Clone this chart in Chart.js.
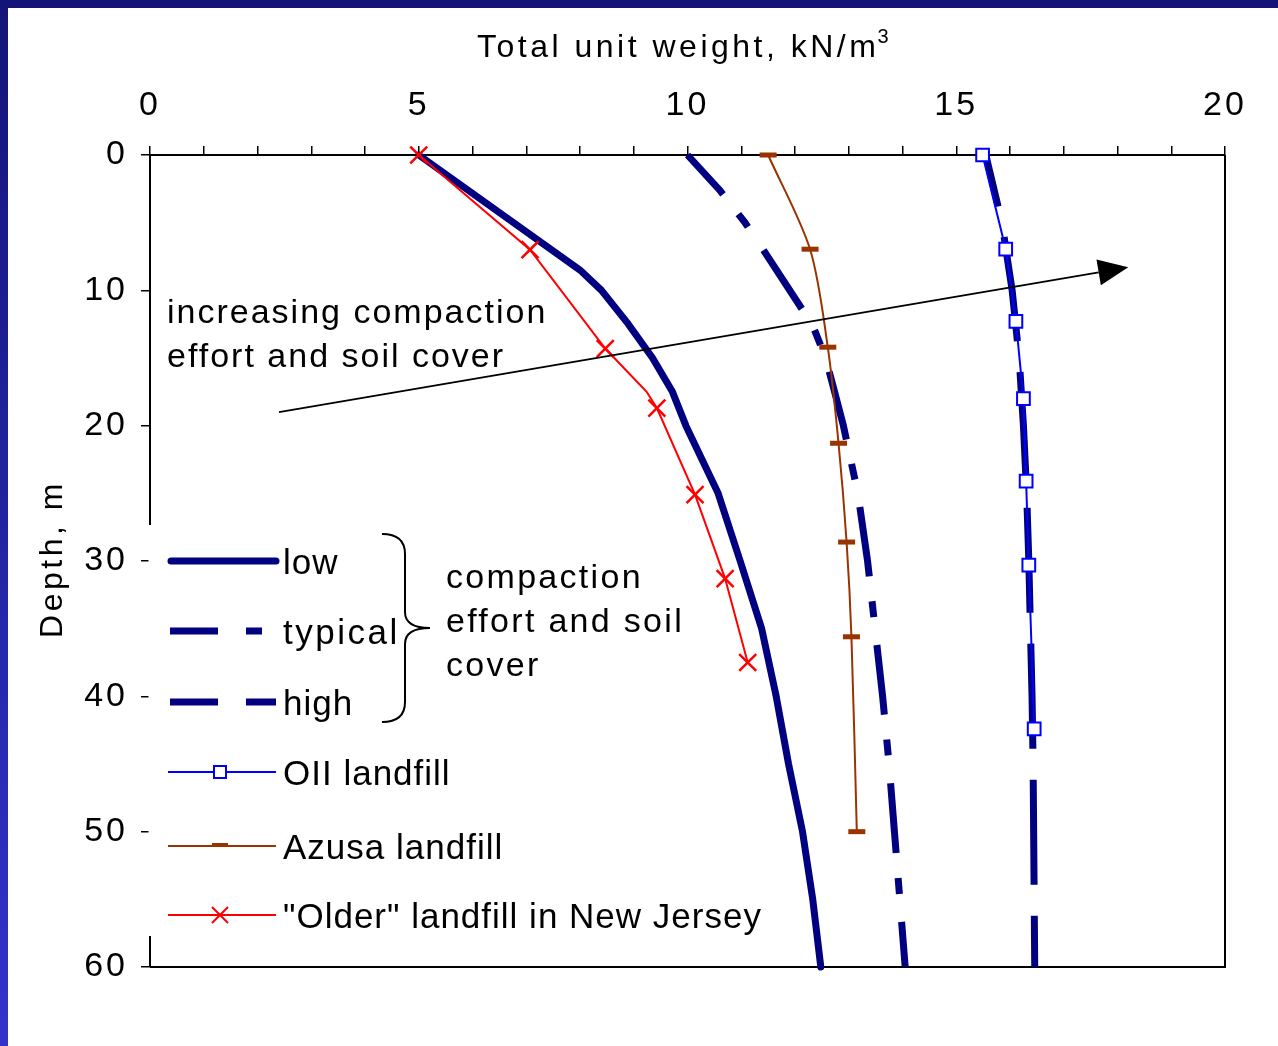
<!DOCTYPE html>
<html>
<head>
<meta charset="utf-8">
<title>Total unit weight vs depth</title>
<script src="https://cdn.jsdelivr.net/npm/chart.js@4.4.1/dist/chart.umd.min.js"></script>
<style>
  html, body { margin: 0; padding: 0; background: #fff; }
  canvas { display: block; }
</style>
</head>
<body>
<canvas id="weightChart" width="1278" height="1046"></canvas>
<script>
// Depth (m) on the y axis, total unit weight (kN/m3) on the x axis

// Compaction effort and soil cover curves
var lowDepth = [0, 8.5, 10, 12.5, 15, 17.5, 20, 25, 30, 35, 40, 45, 50, 55, 60];
var lowWeight = [5.0, 8.0, 8.4, 8.9, 9.35, 9.72, 9.97, 10.57, 10.98, 11.38, 11.65, 11.88, 12.14, 12.33, 12.48];

var typicalDepth = [0, 2.6, 5, 6.4, 12.6, 15, 17.1, 20, 25, 30, 35, 40, 45, 50, 55, 60];
var typicalWeight = [10.0, 10.6, 11.07, 11.31, 12.33, 12.57, 12.71, 12.9, 13.17, 13.35, 13.49, 13.63, 13.75, 13.85, 13.95, 14.05];

var highDepth = [0, 5, 10, 15, 20, 25, 30, 35, 40, 45, 50, 55, 60];
var highWeight = [15.55, 15.85, 16.04, 16.17, 16.25, 16.31, 16.35, 16.38, 16.41, 16.43, 16.44, 16.45, 16.46];

// Measured landfills
var oiiDepth = [0, 6.95, 12.3, 18.0, 24.1, 30.3, 42.4];
var oiiWeight = [15.49, 15.92, 16.11, 16.25, 16.30, 16.35, 16.45];

var azusaDepth = [0, 6.96, 14.2, 21.3, 28.6, 35.6, 50.0];
var azusaWeight = [11.5, 12.28, 12.61, 12.81, 12.96, 13.05, 13.15];

var olderDepth = [0, 7.0, 14.3, 17.5, 18.7, 25.1, 31.3, 37.5];
var olderWeight = [5.0, 7.07, 8.47, 9.24, 9.43, 10.14, 10.70, 11.12];
var olderMarker = [12, 12, 12, 0, 12, 12, 12, 12];

// Axis ranges and labels
var weightTicks = [0, 5, 10, 15, 20];
var depthTicks = [0, 10, 20, 30, 40, 50, 60];
var xTitle = "Total unit weight, kN/m";
var yTitle = "Depth, m";

var NAVY = "#000080";
var FONT = '"Liberation Sans", Arial, sans-serif';

function toPoints(xs, ys) {
    var pts = [];
    for (var i = 0; i < xs.length; i++) {
        pts.push({x: xs[i], y: ys[i]});
    }
    return pts;
}

/*
 * Frame, legend box, brace and annotations. The built-in legend
 * can't do the brace so everything legend-ish is drawn here.
 */
var decorations = {
    id: "decorations",
    beforeDraw: function(chart) {
        var ctx = chart.ctx;
        ctx.save();
        ctx.fillStyle = "#fff";
        ctx.fillRect(0, 0, chart.width, chart.height);
        // slide frame: dark bar on top, blue gradient on the left
        var grad = ctx.createLinearGradient(0, 0, 0, chart.height);
        grad.addColorStop(0, "#141478");
        grad.addColorStop(1, "#3333cc");
        ctx.fillStyle = grad;
        ctx.fillRect(0, 0, 8, chart.height);
        ctx.fillStyle = "#141478";
        ctx.fillRect(0, 0, chart.width, 8);
        ctx.restore();
        // wide spacing on the tick labels, like the original
        ctx.letterSpacing = "3px";
    },
    beforeDatasetsDraw: function(chart) {
        var ctx = chart.ctx;
        var a = chart.chartArea;
        ctx.letterSpacing = "0px";
        ctx.save();

        // right and bottom sides of the plot frame
        ctx.strokeStyle = "#000";
        ctx.lineWidth = 2;
        ctx.beginPath();
        ctx.moveTo(a.left, a.bottom);
        ctx.lineTo(a.right, a.bottom);
        ctx.lineTo(a.right, a.top);
        ctx.stroke();

        // legend box (covers the left axis line)
        var bx = a.left - 1.5;
        ctx.fillStyle = "#fff";
        ctx.fillRect(bx, 525, 620, 411);

        var x0 = 168, x1 = 276, xm = 220;
        var rows = [561, 631, 702, 772, 846, 915];

        // low
        ctx.strokeStyle = NAVY;
        ctx.lineWidth = 7;
        ctx.lineCap = "round";
        ctx.beginPath();
        ctx.moveTo(x0 + 3, rows[0]);
        ctx.lineTo(x1, rows[0]);
        ctx.stroke();
        ctx.lineCap = "butt";
        // typical
        ctx.beginPath();
        ctx.moveTo(x0 + 2, rows[1]); ctx.lineTo(218, rows[1]);
        ctx.moveTo(246, rows[1]); ctx.lineTo(262, rows[1]);
        ctx.stroke();
        // high
        ctx.beginPath();
        ctx.moveTo(x0 + 2, rows[2]); ctx.lineTo(218, rows[2]);
        ctx.moveTo(246, rows[2]); ctx.lineTo(x1, rows[2]);
        ctx.stroke();

        // OII
        ctx.lineWidth = 2;
        ctx.strokeStyle = "#0000ff";
        ctx.beginPath();
        ctx.moveTo(x0, rows[3]); ctx.lineTo(x1, rows[3]);
        ctx.stroke();
        ctx.fillStyle = "#fff";
        ctx.fillRect(xm - 6, rows[3] - 6, 12, 12);
        ctx.strokeRect(xm - 6, rows[3] - 6, 12, 12);

        // Azusa
        ctx.strokeStyle = "#993300";
        ctx.beginPath();
        ctx.moveTo(x0, rows[4]); ctx.lineTo(x1, rows[4]);
        ctx.stroke();
        ctx.lineWidth = 4;
        ctx.beginPath();
        ctx.moveTo(xm - 8, rows[4] - 1); ctx.lineTo(xm + 8, rows[4] - 1);
        ctx.stroke();

        // Older
        ctx.strokeStyle = "#ff0000";
        ctx.lineWidth = 2;
        ctx.beginPath();
        ctx.moveTo(x0, rows[5]); ctx.lineTo(x1, rows[5]);
        ctx.moveTo(xm - 8, rows[5] - 8); ctx.lineTo(xm + 8, rows[5] + 8);
        ctx.moveTo(xm + 8, rows[5] - 8); ctx.lineTo(xm - 8, rows[5] + 8);
        ctx.stroke();

        // labels
        ctx.fillStyle = "#000";
        ctx.font = "35px " + FONT;
        ctx.textAlign = "left";
        ctx.textBaseline = "alphabetic";
        var labels = ["low", "typical", "high", "OII landfill", "Azusa landfill", "\"Older\" landfill in New Jersey"];
        for (var i = 0; i < labels.length; i++) {
            ctx.letterSpacing = i === 1 ? "2.5px" : "1px";
            ctx.fillText(labels[i], 283, rows[i] + 13);
        }

        // brace
        ctx.strokeStyle = "#000";
        ctx.lineWidth = 2;
        ctx.beginPath();
        ctx.moveTo(382, 534);
        ctx.quadraticCurveTo(405, 534, 405, 554);
        ctx.lineTo(405, 612);
        ctx.quadraticCurveTo(405, 628, 430, 628);
        ctx.quadraticCurveTo(405, 628, 405, 644);
        ctx.lineTo(405, 702);
        ctx.quadraticCurveTo(405, 722, 382, 722);
        ctx.stroke();

        ctx.font = "34px " + FONT;
        ctx.letterSpacing = "2.3px";
        ctx.fillText("compaction", 446, 588);
        ctx.fillText("effort and soil", 446, 632);
        ctx.fillText("cover", 446, 676);

        ctx.restore();
    },
    afterDraw: function(chart) {
        var ctx = chart.ctx;
        var xs = chart.scales.x, ys = chart.scales.y;
        ctx.save();
        ctx.fillStyle = "#000";
        ctx.strokeStyle = "#000";

        // annotation text
        ctx.font = "34px " + FONT;
        ctx.letterSpacing = "2px";
        ctx.textAlign = "left";
        ctx.textBaseline = "alphabetic";
        ctx.fillText("increasing compaction", 167, 323);
        ctx.fillText("effort and soil cover", 167, 367);

        // arrow, given in data units
        var sx = xs.getPixelForValue(2.4), sy = ys.getPixelForValue(19.0);
        var ex = xs.getPixelForValue(18.2), ey = ys.getPixelForValue(8.3);
        var ang = Math.atan2(ey - sy, ex - sx);
        var hl = 30, hw = 13;
        var bx = ex - hl * Math.cos(ang), by = ey - hl * Math.sin(ang);
        ctx.lineWidth = 2;
        ctx.beginPath();
        ctx.moveTo(sx, sy);
        ctx.lineTo(bx, by);
        ctx.stroke();
        ctx.beginPath();
        ctx.moveTo(ex, ey);
        ctx.lineTo(bx + hw * Math.sin(ang), by - hw * Math.cos(ang));
        ctx.lineTo(bx - hw * Math.sin(ang), by + hw * Math.cos(ang));
        ctx.closePath();
        ctx.fill();

        // axis titles
        ctx.font = "32px " + FONT;
        ctx.letterSpacing = "3.5px";
        ctx.fillText(xTitle, 477, 57);
        var w = ctx.measureText(xTitle).width;
        ctx.font = "20px " + FONT;
        ctx.letterSpacing = "0px";
        ctx.fillText("3", 477 + w - 2, 43);

        ctx.font = "32px " + FONT;
        ctx.letterSpacing = "3.5px";
        ctx.translate(62, 559);
        ctx.rotate(-Math.PI / 2);
        ctx.textAlign = "center";
        ctx.fillText(yTitle, 0, 0);
        ctx.restore();
        ctx.letterSpacing = "0px";
    }
};

var tickFont = { family: FONT, size: 34 };

new Chart(document.getElementById("weightChart").getContext("2d"), {
    type: "scatter",
    data: {
        datasets: [
            {
                label: "OII landfill",
                data: toPoints(oiiWeight, oiiDepth),
                showLine: true,
                clip: 12,
                borderColor: "#0000ff",
                borderWidth: 2,
                pointStyle: "rect",
                pointRadius: 9,
                pointBorderWidth: 2,
                pointBackgroundColor: "#fff",
                pointBorderColor: "#0000ff"
            },
            {
                label: "Azusa landfill",
                data: toPoints(azusaWeight, azusaDepth),
                showLine: true,
                clip: 12,
                tension: 0.3,
                borderColor: "#993300",
                borderWidth: 2,
                pointStyle: "line",
                pointRadius: 8.5,
                pointBorderWidth: 5,
                pointBorderColor: "#993300"
            },
            {
                label: "\"Older\" landfill in New Jersey",
                data: toPoints(olderWeight, olderDepth),
                showLine: true,
                clip: 12,
                borderColor: "#ff0000",
                borderWidth: 2,
                pointStyle: "crossRot",
                pointRadius: olderMarker,
                pointBorderWidth: 2.5,
                pointBorderColor: "#ff0000"
            },
            {
                label: "low",
                data: toPoints(lowWeight, lowDepth),
                showLine: true,
                clip: 5,
                borderColor: NAVY,
                borderWidth: 7,
                borderCapStyle: "round",
                borderJoinStyle: "round",
                pointRadius: 0
            },
            {
                label: "typical",
                data: toPoints(typicalWeight, typicalDepth),
                showLine: true,
                clip: 5,
                borderColor: NAVY,
                borderWidth: 7,
                borderDash: [70, 25, 16, 28],
                borderDashOffset: 17,
                pointRadius: 0
            },
            {
                label: "high",
                data: toPoints(highWeight, highDepth),
                showLine: true,
                clip: 5,
                borderColor: NAVY,
                borderWidth: 7,
                borderDash: [105, 31],
                borderDashOffset: 52,
                pointRadius: 0
            }
        ]
    },
    options: {
        responsive: false,
        animation: false,
        events: [],
        layout: { padding: { left: 0, top: 0, right: 53, bottom: 79 } },
        plugins: {
            legend: { display: false },
            tooltip: { enabled: false }
        },
        scales: {
            x: {
                type: "linear",
                position: "top",
                min: weightTicks[0],
                max: weightTicks[weightTicks.length - 1],
                ticks: {
                    stepSize: 1,
                    autoSkip: false,
                    maxRotation: 0,
                    padding: 20,
                    color: "#000",
                    font: tickFont,
                    callback: function(v) { return weightTicks.indexOf(v) >= 0 ? v : ""; }
                },
                grid: { drawOnChartArea: false, tickLength: 9, color: "#000", lineWidth: 1.5 },
                border: { color: "#000", width: 2 },
                afterFit: function(scale) { scale.height = 155; }
            },
            y: {
                type: "linear",
                reverse: true,
                min: depthTicks[0],
                max: depthTicks[depthTicks.length - 1],
                ticks: {
                    stepSize: 10,
                    padding: 13,
                    color: "#000",
                    font: tickFont
                },
                grid: { drawOnChartArea: false, tickLength: 9, color: "#000", lineWidth: 1.5 },
                border: { color: "#000", width: 2 },
                afterFit: function(scale) { scale.width = 150; }
            }
        }
    },
    plugins: [decorations]
});
</script>
</body>
</html>
